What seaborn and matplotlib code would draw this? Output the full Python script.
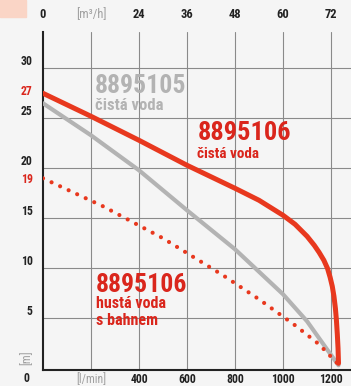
import matplotlib
matplotlib.use("Agg")
import matplotlib.pyplot as plt
import seaborn as sns
import pandas as pd
from matplotlib.patches import Rectangle

# flow [l/min] vs head [m]
red_flow = [0, 200, 400, 600, 800, 900, 1000, 1050, 1100, 1130, 1150, 1170,
            1185, 1196, 1205, 1212, 1218, 1222, 1226, 1229, 1231]
red_head = [27.5, 25.2, 22.8, 20.3, 18.0, 16.8, 15.3, 14.4, 13.2, 12.3, 11.6,
            10.8, 10.0, 9.1, 8.2, 7.2, 6.0, 4.9, 3.4, 2.0, 0.5]

gray_flow = [0, 200, 400, 600, 800, 1000, 1100, 1180, 1231]
gray_head = [26.5, 23.3, 19.8, 15.8, 11.9, 7.4, 4.7, 2.0, 0.3]

mud_flow = [0, 250, 500, 750, 900, 1050, 1150, 1230]
mud_head = [19.0, 16.2, 13.0, 9.3, 6.9, 4.3, 2.4, 0.4]

x_ticks = [200, 400, 600, 800, 1000, 1200]
x_labels = ['[l/min]', '400', '600', '800', '1000', '1200']
top_ticks = [0, 12, 24, 36, 48, 60, 72]
top_labels = ['0', '[m³/h]', '24', '36', '48', '60', '72']
y_ticks = [5, 10, 15, 20, 25, 30]
y_marks = [19, 27]

RED = '#e8381e'
RED_TXT = '#da261c'
GRAY = '#b3b3b3'
BG = '#f5f5f5'

sns.set_style("white")
plt.rcParams['font.family'] = ['Liberation Sans Narrow', 'Roboto Condensed', 'DejaVu Sans']
plt.rcParams['font.weight'] = 'bold'

fig = plt.figure(figsize=(3.51, 3.86), dpi=100, facecolor=BG)
ax = fig.add_axes([43 / 351, 16 / 386, 308 / 351, 338 / 386])
ax.set_facecolor(BG)

df_red = pd.DataFrame({'flow': red_flow, 'head': red_head})
df_gray = pd.DataFrame({'flow': gray_flow, 'head': gray_head})
df_mud = pd.DataFrame({'flow': mud_flow, 'head': mud_head})

sns.lineplot(data=df_gray, x='flow', y='head', ax=ax, color=GRAY, linewidth=3.0,
             sort=False, estimator=None, solid_capstyle='round', zorder=3)
sns.lineplot(data=df_mud, x='flow', y='head', ax=ax, color=RED, linewidth=3.0,
             sort=False, estimator=None, linestyle=(0, (0.01, 2.25)),
             dash_capstyle='round', zorder=3)
sns.lineplot(data=df_red, x='flow', y='head', ax=ax, color=RED, linewidth=3.6,
             sort=False, estimator=None, solid_capstyle='round',
             solid_joinstyle='round', zorder=4)

ax.set_xlim(0, 1283)
ax.set_ylim(-0.17, 33.63)
ax.set_xlabel('')
ax.set_ylabel('')

ax.set_xticks(x_ticks)
ax.set_xticklabels(x_labels)
ax.set_yticks(y_ticks)
ax.set_yticks(y_marks, minor=True)
ax.set_yticklabels([str(v) for v in y_marks], minor=True)
ax.grid(True, which='major', color='#8a8a8a', linewidth=0.8)
ax.grid(False, which='minor')
ax.tick_params(axis='both', which='both', length=0, labelsize=8.5, colors='#222222')
ax.tick_params(axis='y', which='both', pad=7.5)
ax.tick_params(axis='x', pad=2.5)
minor_labels = ax.get_yticklabels(minor=True)
for lab in minor_labels:
    lab.set_color(RED_TXT)
# "27" sits level with the start of the red curve
minor_labels[1].set_va('bottom')
# black labels sit just above their grid line in the original
for lab in ax.get_yticklabels():
    lab.set_va('bottom')
xl = ax.get_xticklabels()
xl[0].set_color('#a0a0a0')
xl[0].set_fontweight('normal')

for s in ['top', 'right']:
    ax.spines[s].set_visible(False)
for s in ['left', 'bottom']:
    ax.spines[s].set_color('#222222')
    ax.spines[s].set_linewidth(1.5)

top = ax.secondary_xaxis('top', functions=(lambda v: v * 0.06, lambda v: v / 0.06))
top.set_xticks(top_ticks)
top.set_xticklabels(top_labels)
top.tick_params(length=0, labelsize=9, colors='#222222', pad=8)
top.spines['top'].set_visible(False)
tl = top.get_xticklabels()
tl[1].set_color('#a0a0a0')
tl[1].set_fontweight('normal')

ax.text(-67, -0.97, '0', ha='center', va='center', fontsize=8.5, color='#222222')
ax.text(-67, 1.1, '[m]', ha='center', va='center', rotation=90, fontsize=8.5,
        color='#a0a0a0', fontweight='normal')

ax.text(217, 27.5, '8895105', color=GRAY, fontsize=18.5, ha='left', va='baseline')
ax.text(217, 25.85, 'čistá voda', color=GRAY, fontsize=12, ha='left', va='baseline')
ax.text(643, 22.83, '8895106', color=RED_TXT, fontsize=19, ha='left', va='baseline')
ax.text(643, 21.06, 'čistá voda', color=RED_TXT, fontsize=11, ha='left', va='baseline')
ax.text(221, 7.66, '8895106', color=RED_TXT, fontsize=18.5, ha='left', va='baseline')
ax.text(221, 6.0, 'hustá voda', color=RED_TXT, fontsize=11.5, ha='left', va='baseline')
ax.text(221, 4.33, 's bahnem', color=RED_TXT, fontsize=11.5, ha='left', va='baseline')

fig.patches.append(Rectangle((0, 1 - 17 / 386), 26 / 351, 17 / 386,
                             transform=fig.transFigure, color='#fad5c6', zorder=0))

fig.savefig('out.png', dpi=100, facecolor=BG)
